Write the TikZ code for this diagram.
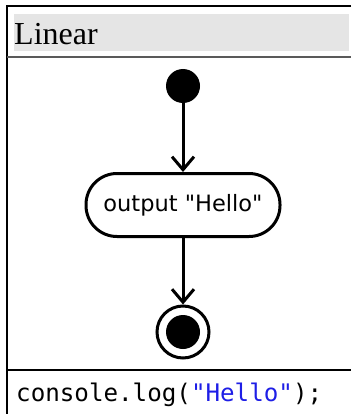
\documentclass[tikz,border=0pt]{standalone}
\usepackage{fontspec}
\setmainfont{Liberation Serif}
\newfontfamily\labelfont{DejaVu Sans}
\newfontfamily\codefont{DejaVu Sans Mono}
\usetikzlibrary{arrows.meta}
\definecolor{headgray}{RGB}{229,229,229}
\definecolor{rulegray}{RGB}{90,90,90}
\definecolor{strblue}{RGB}{30,30,230}
\tikzset{
  frameline/.style={line width=1.6pt, black},
  flow/.style={line width=3pt, -{Straight Barb[length=13pt,width=22pt,line width=3pt]}},
  actionbox/.style={draw, line width=3pt, rounded corners=31pt, minimum width=194pt,
    minimum height=63pt, inner sep=0pt, font=\labelfont\fontsize{22.5}{26}\selectfont},
  startdot/.style={circle, fill=black, minimum size=34pt, inner sep=0pt},
  endring/.style={circle, draw, line width=3pt, minimum size=52pt, inner sep=0pt},
}
\begin{document}
\begin{tikzpicture}[x=1pt,y=-1pt]
\useasboundingbox (0,0) rectangle (351,414);
% outer frame and section rules
\fill[headgray] (14,14) rectangle (349,51);
\draw[frameline] (351,6) -- (7,6) -- (7,414);
\draw[line width=2pt, rulegray] (7,57.5) -- (351,57.5);
\draw[frameline] (7,370) -- (351,370);
% header
\node[anchor=base west, inner sep=0pt, font=\fontsize{32}{35}\selectfont] (title) at (14,45) {Linear};
% activity flow
\node[startdot] (start) at (183,86) {};
\node[actionbox] (act) at (183,205) {output "Hello"};
\node[endring] (stop) at (183,332) {};
\node[startdot] (stopdot) at (183,332) {};
\draw[flow] (start) -- (act);
\draw[flow] (act) -- (stop);
% code line
\node[anchor=base west, inner sep=0pt, font=\codefont\fontsize{24.2}{28}\selectfont] (code) at (16,401)
  {console.log(\textcolor{strblue}{"Hello"});};
\end{tikzpicture}
\end{document}
